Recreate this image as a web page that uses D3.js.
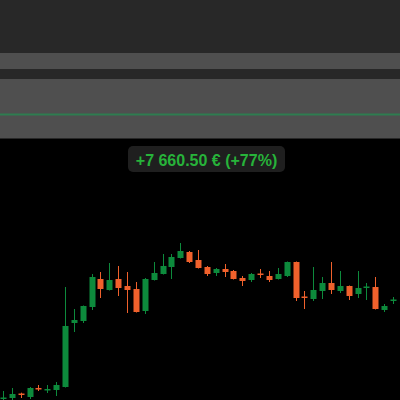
<!DOCTYPE html>
<html lang="fr">
<head>
  <meta charset="UTF-8" />
  <title>Candles</title>
  <script src="https://d3js.org/d3.v7.min.js"></script>
  <style>
    html, body { margin: 0; padding: 0; background: #000; }
    svg { display: block; }
  </style>
</head>
<body>
  <svg id="chart"></svg>
  <script>
    // daily candles, price in €
    const opens  = [9720, 9760, 10120, 9840, 10560, 10400, 10400, 10640, 15760, 15920,
                    17040, 19280, 18400, 19280, 18720, 18480, 16720, 19200, 19680, 20240,
                    20960, 21440, 20800, 20240, 19760, 20080, 19920, 19360, 19200, 19720,
                    19520, 19280, 19520, 20640, 17880, 17680, 18320, 18960, 18320, 18720,
                    18080, 18600, 18640, 16800, 17560];
    const highs  = [10320, 10560, 10184, 10640, 10800, 10800, 11040, 18640, 16880, 17160,
                    19680, 19840, 20560, 20320, 19840, 19040, 19360, 20640, 21280, 21280,
                    22160, 21520, 21600, 20320, 20160, 20480, 20000, 19520, 19760, 20080,
                    19920, 20160, 20680, 20680, 18320, 20240, 19440, 20640, 19920, 18760,
                    19920, 18960, 19440, 17280, 17840];
    const lows   = [9520, 9600, 9760, 9680, 10320, 10160, 9920, 10600, 15040, 15760,
                    16800, 17760, 18360, 17920, 16560, 16600, 16480, 19160, 19640, 19280,
                    20920, 20560, 20120, 19520, 19520, 19440, 19240, 18720, 19040, 19360,
                    19040, 19240, 19440, 17520, 16880, 17520, 17680, 18080, 18160, 17600,
                    17760, 17600, 16840, 16640, 17280];
    const closes = [9800, 10080, 10040, 10560, 10480, 10480, 10800, 15520, 16000, 17120,
                    19440, 18480, 19200, 18560, 18400, 16640, 19280, 19760, 20320, 21040,
                    21520, 20640, 20160, 19680, 20080, 19840, 19280, 19120, 19680, 19640,
                    19200, 19680, 20640, 17760, 17800, 18400, 18960, 18400, 18720, 17920,
                    18560, 18680, 16880, 17120, 17640];
    const gainLabel = "+7 660.50 € (+77%)";

    const width = 400, height = 400;
    const svg = d3.select("#chart").attr("width", width).attr("height", height);

    // header panel
    svg.append("rect").attr("x", 0).attr("y", 0).attr("width", width).attr("height", 139)
       .attr("fill", "#282828");
    svg.append("rect").attr("x", 0).attr("y", 53).attr("width", width).attr("height", 16)
       .attr("fill", "#4f4f4f");
    svg.append("rect").attr("x", 0).attr("y", 79).attr("width", width).attr("height", 59)
       .attr("fill", "#4f4f4f");
    svg.append("line").attr("x1", 0).attr("x2", width).attr("y1", 114.5).attr("y2", 114.5)
       .attr("stroke", "#2e7d50").attr("stroke-width", 2);

    const idx = d3.range(opens.length);
    const x = d3.scaleBand().domain(idx).range([-3, 399]).padding(0.33);
    const y = d3.scaleLinear().domain([9600, 30400]).range([400, 140]);

    const up = "#0d8a3c", down = "#f0612c";
    const g = svg.append("g");

    const candle = g.selectAll("g.c").data(idx).join("g").attr("class", "c");

    candle.append("line")
      .attr("x1", i => Math.round(x(i) + x.bandwidth() / 2) + 0.5)
      .attr("x2", i => Math.round(x(i) + x.bandwidth() / 2) + 0.5)
      .attr("y1", i => y(highs[i]))
      .attr("y2", i => y(lows[i]))
      .attr("stroke", i => closes[i] >= opens[i] ? up : down)
      .attr("stroke-width", 1);

    candle.append("rect")
      .attr("x", i => Math.round(x(i) + x.bandwidth() / 2) - 2.5)
      .attr("width", 6)
      .attr("y", i => y(Math.max(opens[i], closes[i])))
      .attr("height", i => Math.max(1.5, Math.abs(y(opens[i]) - y(closes[i]))))
      .attr("fill", i => closes[i] >= opens[i] ? up : down);

    // gain badge
    const badge = svg.append("g");
    badge.append("rect")
      .attr("x", 128).attr("y", 146).attr("width", 157).attr("height", 26)
      .attr("rx", 5).attr("fill", "#1f1f1f");
    badge.append("text")
      .attr("x", 206.5).attr("y", 165.5)
      .attr("text-anchor", "middle")
      .attr("font-family", "Liberation Sans, Arial, sans-serif")
      .attr("font-weight", "bold")
      .attr("font-size", 16)
      .attr("fill", "#27b33a")
      .text(gainLabel);
  </script>
</body>
</html>
